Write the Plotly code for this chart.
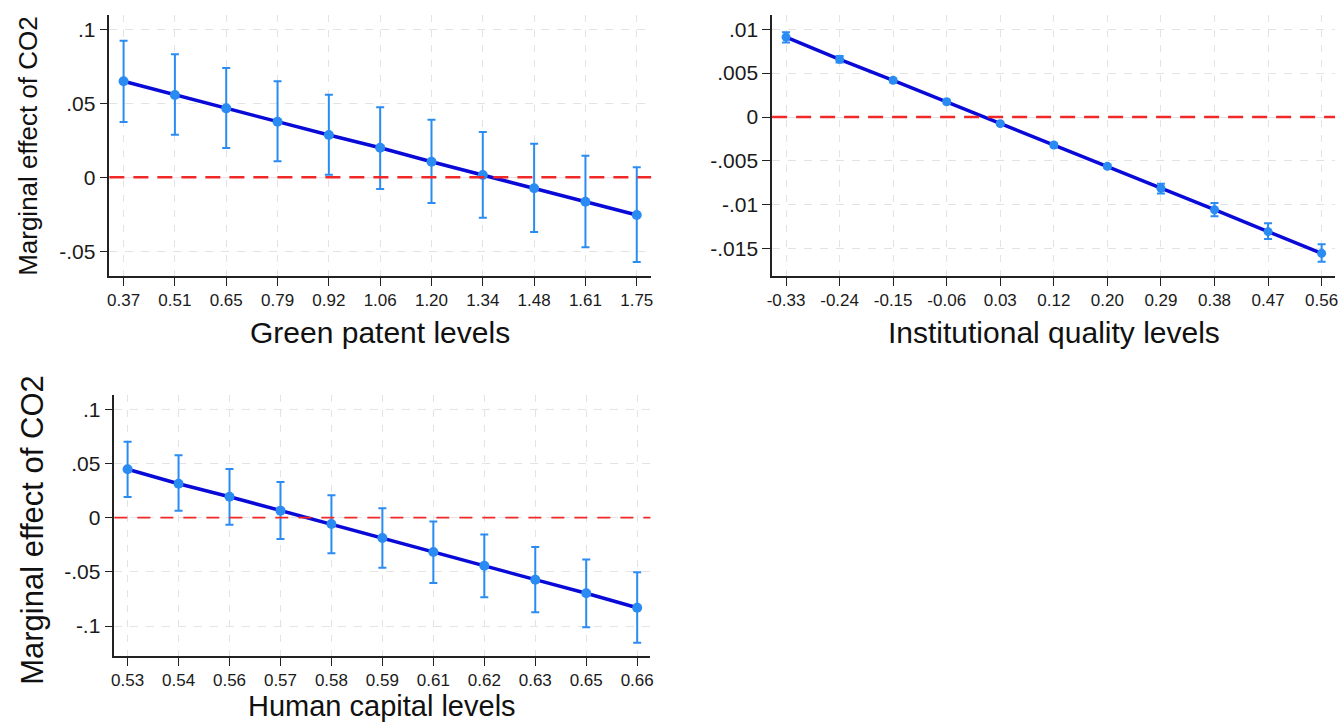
import plotly.graph_objects as go

W, H = 1342, 725

# ---------------- data ----------------
gp_levels = ["0.37", "0.51", "0.65", "0.79", "0.92", "1.06", "1.20", "1.34", "1.48", "1.61", "1.75"]
gp_est = [0.0649, 0.0556, 0.0466, 0.0376, 0.0286, 0.0200, 0.0105, 0.0016, -0.0074, -0.0165, -0.0255]
gp_upper = [0.0923, 0.0831, 0.0739, 0.0649, 0.0558, 0.0473, 0.0389, 0.0306, 0.0227, 0.0146, 0.0068]
gp_lower = [0.0374, 0.0288, 0.0198, 0.0108, 0.0018, -0.0079, -0.0174, -0.0273, -0.0370, -0.0473, -0.0572]

iq_levels = ["-0.33", "-0.24", "-0.15", "-0.06", "0.03", "0.12", "0.20", "0.29", "0.38", "0.47", "0.56"]
iq_est = [0.0091, 0.00657, 0.00418, 0.00174, -0.00076, -0.00319, -0.00562, -0.00812, -0.01056, -0.01306, -0.01553]
iq_upper = [0.00965, 0.00695, 0.0044, 0.0019, -0.0006, -0.0030, -0.0054, -0.0076, -0.0098, -0.0121, -0.0145]
iq_lower = [0.0085, 0.0062, 0.00395, 0.00155, -0.0009, -0.0034, -0.0058, -0.0087, -0.0113, -0.0139, -0.0165]

hc_levels = ["0.53", "0.54", "0.56", "0.57", "0.58", "0.59", "0.61", "0.62", "0.63", "0.65", "0.66"]
hc_est = [0.0447, 0.0314, 0.0194, 0.0065, -0.0058, -0.0187, -0.0317, -0.0443, -0.0572, -0.0698, -0.0831]
hc_upper = [0.0702, 0.0576, 0.0450, 0.0330, 0.0207, 0.0087, -0.0034, -0.0154, -0.0271, -0.0385, -0.0504]
hc_lower = [0.0191, 0.0065, -0.0065, -0.0197, -0.0329, -0.0462, -0.0603, -0.0735, -0.0874, -0.1012, -0.1154]

gp_yticks = [-0.05, 0, 0.05, 0.1]
gp_yticktext = ["-.05", "0", ".05", ".1"]
iq_yticks = [-0.015, -0.01, -0.005, 0, 0.005, 0.01]
iq_yticktext = ["-.015", "-.01", "-.005", "0", ".005", ".01"]
hc_yticks = [-0.1, -0.05, 0, 0.05, 0.1]
hc_yticktext = ["-.1", "-.05", "0", ".05", ".1"]

ytitle = "Marginal effect of CO2"
xtitles = ["Green patent levels", "Institutional quality levels", "Human capital levels"]

# ---------------- style ----------------
FONT = "Arial, Liberation Sans, sans-serif"
LINE_C = "#0a0ad8"
MARK_C = "#2a8cf2"
ZERO_C = "#f02828"
GRID_C = "#e3e3e3"

panels = [
    dict(levels=gp_levels, est=gp_est, up=gp_upper, lo=gp_lower,
         yt=gp_yticks, ytt=gp_yticktext,
         xdom=(105, 650), ydom=(15, 276), xr=(-0.277, 10.28), yr=(-0.0667, 0.1097),
         msize=10, zw=2.5, zdash="15px,9px"),
    dict(levels=iq_levels, est=iq_est, up=iq_upper, lo=iq_lower,
         yt=iq_yticks, ytt=iq_yticktext,
         xdom=(771.7, 1338), ydom=(15, 276), xr=(-0.26, 10.25), yr=(-0.01811, 0.01162),
         msize=9, zw=2.5, zdash="15px,9px"),
    dict(levels=hc_levels, est=hc_est, up=hc_upper, lo=hc_lower,
         yt=hc_yticks, ytt=hc_yticktext,
         xdom=(110, 649.3), ydom=(395, 656), xr=(-0.26, 10.26), yr=(-0.1277, 0.1133),
         msize=10, zw=1.8, zdash="13px,10px"),
]

fig = go.Figure()
layout = dict(
    width=W, height=H,
    margin=dict(l=0, r=0, t=0, b=0),
    paper_bgcolor="white", plot_bgcolor="white",
    showlegend=False,
    font=dict(family=FONT, color="#1a1a1a"),
)

for i, p in enumerate(panels, start=1):
    sfx = "" if i == 1 else str(i)
    xa, ya = "x" + sfx, "y" + sfx
    err_plus = [u - e for u, e in zip(p["up"], p["est"])]
    err_minus = [e - l for e, l in zip(p["est"], p["lo"])]
    # connecting line
    fig.add_trace(go.Scatter(x=p["levels"], y=p["est"], mode="lines",
                             line=dict(color=LINE_C, width=3.5),
                             xaxis=xa, yaxis=ya, hoverinfo="skip"))
    # markers with CI caps
    fig.add_trace(go.Scatter(x=p["levels"], y=p["est"], mode="markers",
                             marker=dict(color=MARK_C, size=p["msize"]),
                             error_y=dict(type="data", symmetric=False,
                                          array=err_plus, arrayminus=err_minus,
                                          color=MARK_C, thickness=2, width=4),
                             xaxis=xa, yaxis=ya))
    # zero reference line
    fig.add_shape(type="line", xref=xa + " domain", yref=ya, x0=0, x1=1, y0=0, y1=0,
                  line=dict(color=ZERO_C, width=p["zw"], dash=p["zdash"]), layer="above")

    x0, x1 = p["xdom"]
    y0, y1 = p["ydom"]
    layout["xaxis" + sfx] = dict(
        domain=[x0 / W, x1 / W], anchor=ya, type="category",
        range=list(p["xr"]),
        showline=True, linecolor="#222", linewidth=1.5,
        ticks="outside", ticklen=8, tickwidth=1.3, tickcolor="#222",
        tickfont=dict(family=FONT, size=17, color="#1a1a1a"),
        showgrid=True, gridcolor=GRID_C, gridwidth=1.2, griddash="7px,8px",
        zeroline=False, fixedrange=True,
    )
    layout["yaxis" + sfx] = dict(
        domain=[1 - y1 / H, 1 - y0 / H], anchor=xa,
        range=list(p["yr"]),
        tickmode="array", tickvals=p["yt"], ticktext=p["ytt"],
        showline=True, linecolor="#222", linewidth=1.5,
        ticks="outside", ticklen=8, tickwidth=1.3, tickcolor="#222",
        tickfont=dict(family=FONT, size=21, color="#1a1a1a"),
        showgrid=True, gridcolor=GRID_C, gridwidth=1.2, griddash="8px,8px",
        zeroline=False, fixedrange=True,
    )

annotations = [
    dict(text=ytitle, x=23 / W, y=1 - 146 / H, textangle=-90, font=dict(size=26)),
    dict(text=ytitle, x=27 / W, y=1 - 530 / H, textangle=-90, font=dict(size=31)),
    dict(text=xtitles[0], x=377.5 / W, y=1 - 333 / H, font=dict(size=30)),
    dict(text=xtitles[1], x=1054.8 / W, y=1 - 333 / H, font=dict(size=30)),
    dict(text=xtitles[2], x=379.6 / W, y=1 - 706 / H, font=dict(size=29)),
]
for a in annotations:
    a.update(xref="paper", yref="paper", showarrow=False, xanchor="center", yanchor="middle")
    a["font"].update(family=FONT, color="#111")
layout["annotations"] = annotations

fig.update_layout(**layout)
fig.write_html(
    "out.html",
    config={"displayModeBar": False},
    post_script="document.body.style.margin='0';document.body.style.overflow='hidden';",
)
